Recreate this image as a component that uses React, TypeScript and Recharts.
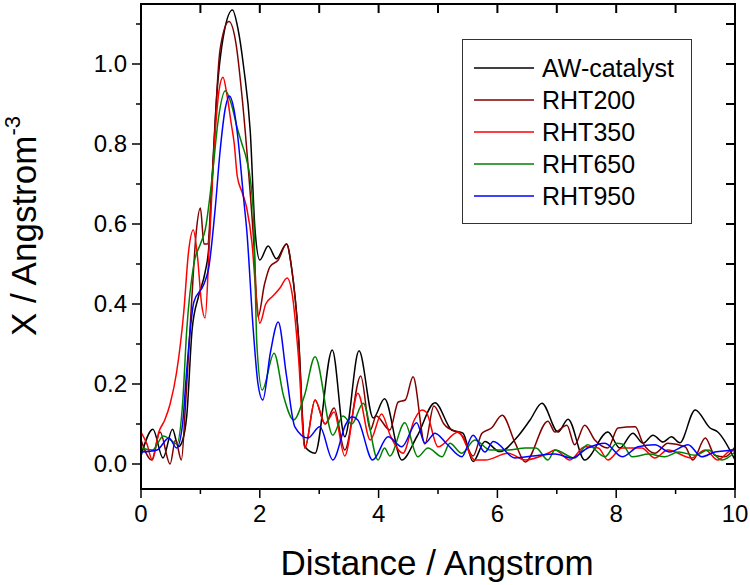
import React from 'react';
import { LineChart, Line, XAxis, YAxis } from 'recharts';

// distance (Angstrom) / X (Angstrom^-3)
const awCatalyst = [
  [0, 0.02], [0.2, 0.087], [0.37, 0.015], [0.53, 0.087], [0.63, 0.043], [0.72, 0.07], [0.77, 0.12],
  [0.86, 0.335], [0.97, 0.42], [1.08, 0.48], [1.14, 0.54], [1.18, 0.66], [1.27, 0.91], [1.4, 1.08],
  [1.54, 1.135], [1.63, 1.09], [1.73, 0.99], [1.84, 0.83], [1.92, 0.585], [2.0, 0.51], [2.14, 0.545],
  [2.28, 0.513], [2.45, 0.55], [2.54, 0.485], [2.65, 0.32], [2.76, 0.043], [2.93, 0.027], [3.22, 0.285],
  [3.43, 0.068], [3.67, 0.283], [3.91, 0.115], [4.1, 0.163], [4.39, 0.01], [4.65, 0.07], [4.95, 0.153],
  [5.23, 0.085], [5.42, 0.077], [5.59, 0.006], [5.79, 0.056], [6.04, 0.031], [6.32, 0.065], [6.55, 0.11],
  [6.75, 0.152], [7.02, 0.08], [7.19, 0.112], [7.47, 0.01], [7.86, 0.08], [8.06, 0.04], [8.28, 0.077],
  [8.45, 0.052], [8.62, 0.072], [8.79, 0.055], [8.93, 0.068], [9.07, 0.053], [9.33, 0.135], [9.58, 0.09],
  [9.71, 0.08], [10, 0.01],
];

const rht200 = [
  [0, 0.06], [0.18, 0.01], [0.32, 0.08], [0.49, 0.0], [0.58, 0.06], [0.68, 0.01], [0.75, 0.15], [0.85, 0.4],
  [0.93, 0.58], [1.0, 0.64], [1.06, 0.55], [1.12, 0.55], [1.2, 0.72], [1.33, 1.035], [1.48, 1.106],
  [1.6, 1.05], [1.7, 0.92], [1.8, 0.75], [1.9, 0.55], [1.97, 0.368], [2.08, 0.45], [2.17, 0.493],
  [2.31, 0.51], [2.45, 0.55], [2.54, 0.485], [2.65, 0.32], [2.76, 0.04], [2.93, 0.16], [3.1, 0.1],
  [3.25, 0.14], [3.43, 0.035], [3.7, 0.22], [3.86, 0.085], [3.96, 0.12], [4.19, 0.085], [4.33, 0.155],
  [4.45, 0.16], [4.58, 0.218], [4.78, 0.05], [4.93, 0.145], [5.1, 0.1], [5.42, 0.068], [5.59, 0.02],
  [5.74, 0.077], [5.9, 0.09], [6.08, 0.122], [6.3, 0.052], [6.47, 0.005], [6.85, 0.107], [6.97, 0.08],
  [7.17, 0.097], [7.3, 0.048], [7.47, 0.097], [7.64, 0.06], [7.86, 0.04], [8.03, 0.09], [8.32, 0.093],
  [8.45, 0.052], [8.65, 0.027], [8.87, 0.052], [9.16, 0.043], [9.29, 0.01], [9.5, 0.065], [9.66, 0.022],
  [9.83, 0.018], [10, 0.043],
];

const rht350 = [
  [0, 0.08], [0.1, 0.05], [0.19, 0.01], [0.3, 0.08], [0.4, 0.11], [0.49, 0.15], [0.6, 0.23], [0.72, 0.38],
  [0.8, 0.53], [0.88, 0.585], [0.95, 0.52], [1.02, 0.4], [1.08, 0.365], [1.15, 0.55], [1.25, 0.83],
  [1.32, 0.94], [1.38, 0.967], [1.45, 0.92], [1.52, 0.85], [1.57, 0.8], [1.62, 0.72], [1.7, 0.68],
  [1.78, 0.64], [1.87, 0.55], [1.94, 0.42], [2.0, 0.352], [2.1, 0.4], [2.22, 0.42], [2.34, 0.44],
  [2.46, 0.465], [2.55, 0.42], [2.65, 0.27], [2.76, 0.04], [2.93, 0.16], [3.1, 0.1], [3.25, 0.13],
  [3.43, 0.02], [3.65, 0.177], [3.86, 0.06], [4.05, 0.125], [4.2, 0.07], [4.41, 0.027], [4.6, 0.11],
  [4.73, 0.135], [4.8, 0.13], [5.0, 0.043], [5.34, 0.08], [5.62, 0.01], [5.8, 0.01], [6.18, 0.027],
  [6.47, 0.01], [6.85, 0.027], [6.97, 0.035], [7.22, 0.01], [7.47, 0.043], [7.7, 0.04], [7.86, 0.01],
  [8.1, 0.04], [8.43, 0.04], [8.65, 0.015], [8.87, 0.035], [9.27, 0.015], [9.5, 0.035], [9.71, 0.01],
  [9.95, 0.035], [10, 0.03],
];

const rht650 = [
  [0, 0.04], [0.19, 0.035], [0.38, 0.07], [0.5, 0.06], [0.6, 0.05], [0.7, 0.15], [0.77, 0.335],
  [0.89, 0.5], [1.0, 0.55], [1.08, 0.585], [1.2, 0.72], [1.3, 0.86], [1.42, 0.933], [1.52, 0.9],
  [1.62, 0.84], [1.7, 0.8], [1.78, 0.76], [1.85, 0.7], [1.9, 0.6], [1.95, 0.3], [2.04, 0.185],
  [2.24, 0.277], [2.4, 0.17], [2.57, 0.11], [2.75, 0.17], [2.93, 0.268], [3.23, 0.072], [3.4, 0.12],
  [3.55, 0.1], [3.74, 0.152], [3.99, 0.01], [4.1, 0.04], [4.19, 0.02], [4.44, 0.103], [4.66, 0.018],
  [4.83, 0.04], [5.07, 0.018], [5.2, 0.052], [5.4, 0.027], [5.62, 0.06], [5.88, 0.035], [6.18, 0.035],
  [6.47, 0.04], [6.65, 0.04], [6.85, 0.01], [6.97, 0.035], [7.3, 0.015], [7.52, 0.048], [7.81, 0.018],
  [8.01, 0.052], [8.1, 0.05], [8.27, 0.018], [8.55, 0.025], [8.82, 0.018], [9.05, 0.03], [9.33, 0.022],
  [9.55, 0.035], [9.78, 0.01], [10, 0.03],
];

const rht950 = [
  [0, 0.03], [0.27, 0.035], [0.47, 0.065], [0.6, 0.04], [0.7, 0.1], [0.77, 0.235], [0.89, 0.405],
  [1.06, 0.45], [1.14, 0.49], [1.25, 0.64], [1.33, 0.78], [1.42, 0.89], [1.49, 0.92], [1.56, 0.89],
  [1.62, 0.83], [1.73, 0.66], [1.78, 0.585], [1.89, 0.335], [1.97, 0.2], [2.05, 0.16], [2.18, 0.28],
  [2.31, 0.355], [2.45, 0.22], [2.59, 0.093], [2.81, 0.065], [3.01, 0.093], [3.23, 0.01], [3.45, 0.1],
  [3.55, 0.118], [3.65, 0.11], [3.9, 0.01], [4.16, 0.068], [4.39, 0.043], [4.64, 0.103], [4.78, 0.052],
  [4.95, 0.077], [5.15, 0.05], [5.4, 0.018], [5.59, 0.072], [5.79, 0.03], [5.93, 0.056], [6.3, 0.015],
  [6.6, 0.02], [6.97, 0.025], [7.25, 0.015], [7.52, 0.04], [7.81, 0.052], [8.1, 0.018], [8.37, 0.043],
  [8.65, 0.048], [8.9, 0.03], [9.21, 0.048], [9.44, 0.018], [9.66, 0.03], [9.95, 0.035], [10, 0.04],
];

const xTicks = [0, 1, 2, 3, 4, 5, 6, 7, 8, 9, 10];
const yTicks = [0, 0.1, 0.2, 0.3, 0.4, 0.5, 0.6, 0.7, 0.8, 0.9, 1.0, 1.1];
const X_DOMAIN = [0, 10];
const Y_DOMAIN = [-0.0625, 1.15];

const series = [
  { name: 'AW-catalyst', color: '#000000', points: awCatalyst },
  { name: 'RHT200', color: '#800000', points: rht200 },
  { name: 'RHT350', color: '#ff0000', points: rht350 },
  { name: 'RHT650', color: '#008000', points: rht650 },
  { name: 'RHT950', color: '#0000ff', points: rht950 },
];

const W = 750;
const H = 585;
const M = { top: 4, right: 15, bottom: 0, left: 0 };
const Y_AXIS_W = 141;
const X_AXIS_H = 96;
const PLOT_L = M.left + Y_AXIS_W;
const PLOT_T = M.top;
const PLOT_W = W - M.left - M.right - Y_AXIS_W;
const PLOT_H = H - M.top - M.bottom - X_AXIS_H;

const FONT = '"Liberation Sans", Arial, Helvetica, sans-serif';
const toRows = (pts: number[][]) => pts.map(([x, y]) => ({ x, y }));
const isMajorY = (v: number) => Math.round(v * 10) % 2 === 0;

const LeftTick = (props: any) => {
  const x = Number(props.x);
  const y = Number(props.y);
  const v = Number(props.payload.value);
  const major = isMajorY(v);
  return (
    <g>
      <line x1={x} x2={x - (major ? 9 : 5)} y1={y} y2={y} stroke="#000" strokeWidth={1.5} />
      {major && v <= 1.0 && (
        <text x={x - 14} y={y + 8} textAnchor="end" fontSize={24} fontFamily={FONT} fill="#000">
          {v.toFixed(1)}
        </text>
      )}
    </g>
  );
};

const BottomTick = (props: any) => {
  const x = Number(props.x);
  const y = Number(props.y);
  const v = Number(props.payload.value);
  const major = v % 2 === 0;
  return (
    <g>
      <line x1={x} x2={x} y1={y} y2={y + (major ? 9 : 5)} stroke="#000" strokeWidth={1.5} />
      {major && (
        <text x={x} y={y + 33} textAnchor="middle" fontSize={24} fontFamily={FONT} fill="#000">
          {v}
        </text>
      )}
    </g>
  );
};

// inward mirrored ticks on the top and right edges (same tick lists as the axes)
const MirrorTicks = () => {
  const sx = (v: number) => PLOT_L + ((v - X_DOMAIN[0]) / (X_DOMAIN[1] - X_DOMAIN[0])) * PLOT_W;
  const sy = (v: number) => PLOT_T + ((Y_DOMAIN[1] - v) / (Y_DOMAIN[1] - Y_DOMAIN[0])) * PLOT_H;
  const right = PLOT_L + PLOT_W;
  return (
    <svg
      width={W}
      height={H}
      style={{ position: 'absolute', left: 0, top: 0, pointerEvents: 'none', zIndex: 2 }}
    >
      {xTicks.map((v) => (
        <line key={`t${v}`} x1={sx(v)} x2={sx(v)} y1={PLOT_T} y2={PLOT_T + 9} stroke="black" strokeWidth={2} />
      ))}
      {yTicks.map((v) => (
        <line key={`r${v}`} x1={right} x2={right - 9} y1={sy(v)} y2={sy(v)} stroke="black" strokeWidth={2} />
      ))}
    </svg>
  );
};

// plot frame
const Frame = () => (
  <div
    style={{
      position: 'absolute',
      left: PLOT_L - 1,
      top: PLOT_T - 1,
      width: PLOT_W + 2,
      height: PLOT_H + 2,
      border: '2px solid black',
      boxSizing: 'border-box',
      pointerEvents: 'none',
      zIndex: 2,
    }}
  />
);

const LegendBox = () => (
  <div
    style={{
      position: 'absolute',
      left: 462,
      top: 39,
      width: 230,
      height: 185,
      border: '1px solid #333',
      background: '#fff',
      boxSizing: 'border-box',
      paddingTop: 12,
      zIndex: 3,
    }}
  >
    {series.map((s) => (
      <div key={s.name} style={{ display: 'flex', alignItems: 'center', height: 32 }}>
        <svg width={79} height={32}>
          <line x1={11} x2={71} y1={16} y2={16} stroke={s.color} strokeWidth={1.5} />
        </svg>
        <span style={{ fontFamily: FONT, fontSize: 25, color: '#000', lineHeight: '32px' }}>{s.name}</span>
      </div>
    ))}
  </div>
);

export default function App() {
  return (
    <div style={{ position: 'absolute', left: 0, top: 0, width: W, height: H, background: '#fff' }}>
      <LineChart width={W} height={H} margin={M}>
        <XAxis
          dataKey="x"
          type="number"
          domain={X_DOMAIN}
          ticks={xTicks}
          allowDataOverflow
          height={X_AXIS_H}
          tickSize={0}
          tickMargin={0}
          tick={<BottomTick />}
          axisLine={{ stroke: '#000', strokeWidth: 1.5 }}
        />
        <YAxis
          type="number"
          domain={Y_DOMAIN}
          ticks={yTicks}
          allowDataOverflow
          width={Y_AXIS_W}
          tickSize={0}
          tickMargin={0}
          tick={<LeftTick />}
          axisLine={{ stroke: '#000', strokeWidth: 1.5 }}
        />
        {series.map((s) => (
          <Line
            key={s.name}
            name={s.name}
            data={toRows(s.points)}
            dataKey="y"
            type="monotone"
            stroke={s.color}
            strokeWidth={1.5}
            dot={false}
            activeDot={false}
            isAnimationActive={false}
          />
        ))}
        <text x={437} y={575} textAnchor="middle" fontSize={35} fontFamily={FONT} fill="#000">
          Distance / Angstrom
        </text>
        <text
          transform="translate(36,226) rotate(-90)"
          textAnchor="middle"
          fontSize={35}
          fontFamily={FONT}
          fill="#000"
        >
          X / Angstrom
          <tspan dy={-16} fontSize={22}>-3</tspan>
        </text>
      </LineChart>
      <Frame />
      <MirrorTicks />
      <LegendBox />
    </div>
  );
}
